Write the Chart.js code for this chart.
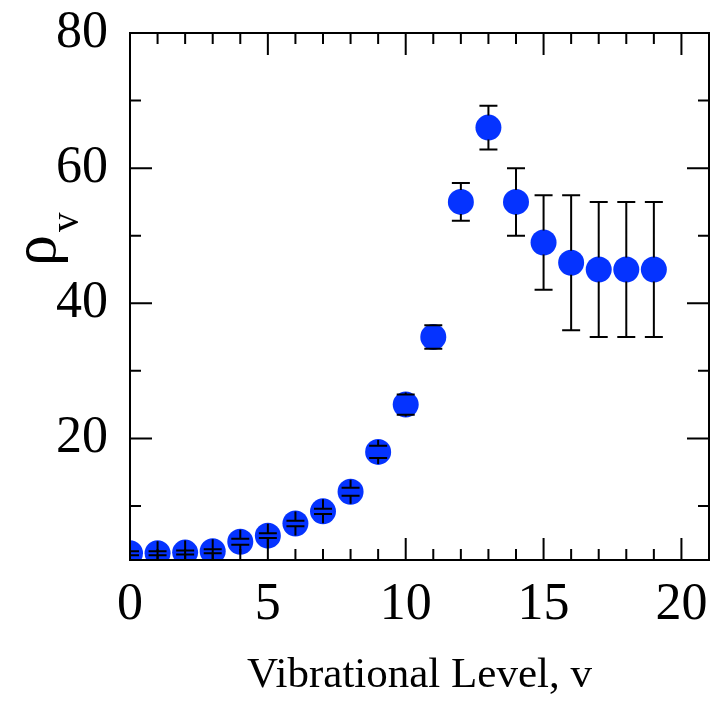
<!DOCTYPE html>
<html>
<head>
<title>Vibrational level populations</title>
<script src="https://cdn.jsdelivr.net/npm/chart.js"></script>
<style>
  body { margin: 0; background: #fff; }
</style>
</head>
<body>
<canvas id="rhoChart" width="722" height="715"></canvas>
<script>
const levels = [0, 1, 2, 3, 4, 5, 6, 7, 8, 9, 10, 11, 12, 13, 14, 15, 16, 17, 18, 19];
const rho    = [3.0, 3.0, 3.1, 3.3, 4.7, 5.6, 7.4, 9.2, 12.1, 18, 25, 35, 55, 66, 55, 49, 46, 45, 45, 45];
const rhoErr = [0.3, 0.3, 0.3, 0.3, 0.45, 0.35, 0.4, 0.4, 0.6, 0.9, 1.5, 1.75, 2.8, 3.25, 5, 7, 10, 10, 10, 10];

const xMajor = [0, 5, 10, 15, 20];
const xMinor = [1, 2, 3, 4, 6, 7, 8, 9, 11, 12, 13, 14, 16, 17, 18, 19];
const yMajor = [20, 40, 60, 80];
const yMinor = [10, 30, 50, 70];

const serif = '"Liberation Serif", "Times New Roman", serif';
const blue = '#0533ff';

// vertical error bars with caps, drawn over the markers
const errorBars = {
  id: 'errorBars',
  afterDatasetsDraw(chart) {
    const {ctx, chartArea: a, scales: {x, y}} = chart;
    const rim = 12, cap = 9;
    ctx.save();
    ctx.beginPath();
    ctx.rect(a.left, a.top, a.right - a.left, a.bottom - a.top);
    ctx.clip();
    ctx.strokeStyle = '#000';
    ctx.lineWidth = 2;
    ctx.beginPath();
    levels.forEach((lv, i) => {
      const px = x.getPixelForValue(lv);
      const yc = y.getPixelForValue(rho[i]);
      const hi = y.getPixelForValue(rho[i] + rhoErr[i]);
      const lo = y.getPixelForValue(rho[i] - rhoErr[i]);
      // stem runs between cap and marker rim
      ctx.moveTo(px, hi); ctx.lineTo(px, yc - rim);
      ctx.moveTo(px, lo); ctx.lineTo(px, yc + rim);
      ctx.moveTo(px - cap, hi); ctx.lineTo(px + cap, hi);
      ctx.moveTo(px - cap, lo); ctx.lineTo(px + cap, lo);
    });
    ctx.stroke();
    ctx.restore();
  }
};

// closed box with inward ticks on all four sides
const frameTicks = {
  id: 'frameTicks',
  afterDatasetsDraw(chart) {
    const {ctx, chartArea: a, scales: {x, y}} = chart;
    ctx.save();
    ctx.strokeStyle = '#000';
    ctx.lineWidth = 2;
    ctx.strokeRect(a.left, a.top, a.right - a.left, a.bottom - a.top);
    ctx.beginPath();
    const xt = xMajor.map(v => [v, 22]).concat(xMinor.map(v => [v, 11]));
    for (const [v, len] of xt) {
      const px = x.getPixelForValue(v);
      ctx.moveTo(px, a.bottom); ctx.lineTo(px, a.bottom - len);
      ctx.moveTo(px, a.top); ctx.lineTo(px, a.top + len);
    }
    const yt = yMajor.map(v => [v, 22]).concat(yMinor.map(v => [v, 11]));
    for (const [v, len] of yt) {
      const py = y.getPixelForValue(v);
      ctx.moveTo(a.left, py); ctx.lineTo(a.left + len, py);
      ctx.moveTo(a.right, py); ctx.lineTo(a.right - len, py);
    }
    ctx.stroke();
    ctx.restore();
  }
};

// rotated "rho" with subscript v
const yTitle = {
  id: 'yTitle',
  afterDraw(chart) {
    const ctx = chart.ctx;
    ctx.save();
    ctx.translate(55, 266);
    ctx.rotate(-Math.PI / 2);
    ctx.fillStyle = '#000';
    ctx.textBaseline = 'alphabetic';
    ctx.font = '62px ' + serif;
    ctx.fillText('ρ', 0, 0);
    const w = ctx.measureText('ρ').width;
    ctx.font = '39px ' + serif;
    ctx.fillText('v', w + 3, 23);
    ctx.restore();
  }
};

const noPad = s => { s.paddingLeft = 0; s.paddingRight = 0; s.paddingTop = 0; s.paddingBottom = 0; };

new Chart(document.getElementById('rhoChart'), {
  type: 'scatter',
  data: {
    datasets: [{
      data: levels.map((v, i) => ({x: v, y: rho[i]})),
      pointRadius: 13,
      pointBackgroundColor: blue,
      pointBorderWidth: 0,
      clip: 0
    }]
  },
  options: {
    responsive: false,
    animation: false,
    events: [],
    layout: {padding: {left: 0, right: 12, top: 33, bottom: 0}},
    plugins: {legend: {display: false}, tooltip: {enabled: false}},
    scales: {
      x: {
        type: 'linear', min: 0, max: 21,
        grid: {display: false, drawTicks: false},
        border: {display: false},
        afterBuildTicks: s => { s.ticks = xMajor.map(v => ({value: v})); },
        afterFit: s => { s.height = 155; noPad(s); },
        ticks: {font: {family: serif, size: 52}, color: '#000', padding: 14, maxRotation: 0, autoSkip: false},
        title: {display: true, text: 'Vibrational Level, v', color: '#000',
                font: {family: serif, size: 43}, padding: {top: 0, bottom: 13}}
      },
      y: {
        type: 'linear', min: 2, max: 80,
        grid: {display: false, drawTicks: false},
        border: {display: false},
        afterBuildTicks: s => { s.ticks = yMajor.map(v => ({value: v})); },
        afterFit: s => { s.width = 130; noPad(s); },
        ticks: {font: {family: serif, size: 52}, color: '#000', padding: 22, autoSkip: false}
      }
    }
  },
  plugins: [errorBars, frameTicks, yTitle]
});
</script>
</body>
</html>
